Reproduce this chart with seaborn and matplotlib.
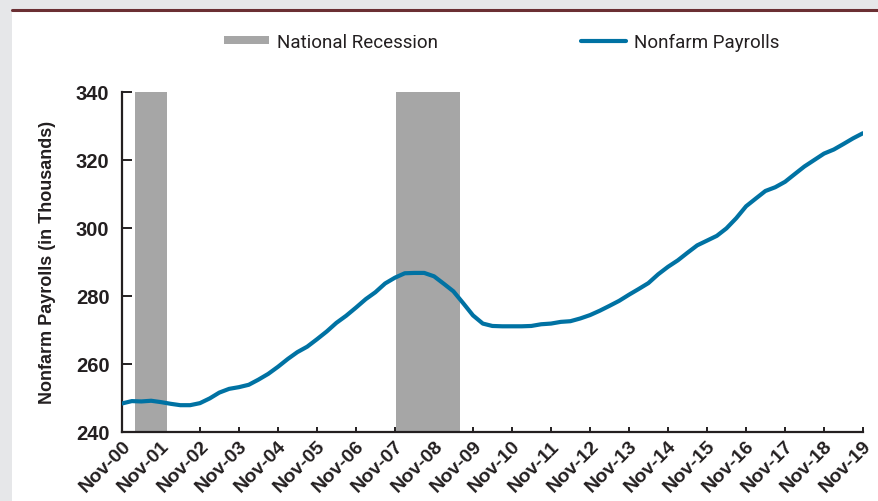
import pandas as pd
import matplotlib.pyplot as plt
import matplotlib.dates as mdates
from matplotlib.patches import Rectangle, Patch
from matplotlib.lines import Line2D
import seaborn as sns

# ==== Data (quarterly readings, Nov-2000 .. Nov-2019) ====
start_month = "2000-11-01"
payrolls = [
    248.3, 249.0, 248.9, 249.1, 248.7, 248.2, 247.8, 247.8, 248.4, 249.8,
    251.5, 252.6, 253.1, 253.8, 255.3, 257.0, 259.1, 261.4, 263.4, 265.0,
    267.2, 269.5, 272.0, 274.1, 276.5, 279.0, 281.0, 283.6, 285.3, 286.6,
    286.7, 286.7, 285.7, 283.5, 281.3, 277.8, 274.2, 271.8, 271.1, 271.0,
    271.0, 271.0, 271.1, 271.6, 271.8, 272.3, 272.5, 273.3, 274.3, 275.6,
    277.0, 278.5, 280.3, 282.0, 283.7, 286.3, 288.5, 290.4, 292.6, 294.8,
    296.2, 297.6, 299.8, 302.8, 306.3, 308.6, 310.8, 311.9, 313.5, 315.8,
    318.0, 319.9, 321.8, 323.0, 324.6, 326.3, 327.8,
]
recession_start = ["2001-03-01", "2007-11-15"]
recession_end = ["2001-12-25", "2009-07-01"]
y_ticks = [240, 260, 280, 300, 320, 340]

dates = pd.date_range(start_month, periods=len(payrolls), freq="3MS")
df = pd.DataFrame({"Date": dates, "Payrolls": payrolls})

# ==== Figure ====
sns.set_style("ticks")
plt.rcParams["font.family"] = ["Liberation Sans", "DejaVu Sans"]

W, H = 879, 502
fig = plt.figure(figsize=(W / 100, H / 100), dpi=100, facecolor="#e6e7e9")
fig.patches.append(Rectangle((12 / W, 0), 1 - 12 / W, 1 - 12 / H,
                             transform=fig.transFigure, facecolor="white",
                             edgecolor="none", zorder=-10))
fig.lines.append(Line2D([12 / W, 1], [1 - 10.5 / H, 1 - 10.5 / H],
                        transform=fig.transFigure, color="#6b2f33", lw=2.2,
                        zorder=-5))

ax = fig.add_axes([122 / W, 1 - 432.7 / H, (863 - 122) / W, (432.7 - 92.7) / H])
ax.set_facecolor("none")

for s, e in zip(recession_start, recession_end):
    ax.axvspan(pd.Timestamp(s), pd.Timestamp(e), color="#a6a6a6", lw=0, zorder=1)

sns.lineplot(data=df, x="Date", y="Payrolls", ax=ax, color="#0072a3",
             lw=3.0, zorder=3)

ax.set_xlim(pd.Timestamp("2000-11-01"), pd.Timestamp("2019-11-01"))
ax.set_ylim(240, 340)
ax.set_yticks(y_ticks)
ax.xaxis.set_major_locator(mdates.MonthLocator(bymonth=11, bymonthday=1))
ax.xaxis.set_major_formatter(mdates.DateFormatter("Nov-%y"))

sns.despine(ax=ax)
for side in ["left", "bottom"]:
    ax.spines[side].set_color("#231f20")
    ax.spines[side].set_linewidth(1.6)

ax.tick_params(axis="y", direction="in", length=7.5, width=1.4,
               color="#231f20", pad=9, labelsize=14.5, labelcolor="#231f20")
ax.tick_params(axis="x", direction="in", length=3.8, width=1.4,
               color="#231f20", pad=4, labelsize=14, labelcolor="#231f20")
for lab in ax.get_yticklabels():
    lab.set_fontweight("bold")
for lab in ax.get_xticklabels():
    lab.set_fontweight("bold")
    lab.set_rotation(45)
    lab.set_ha("right")
    lab.set_rotation_mode("anchor")

ax.set_xlabel("")
ax.set_ylabel("Nonfarm Payrolls (in Thousands)", fontsize=13, fontweight="bold",
              color="#231f20", labelpad=14)

handles = [Patch(facecolor="#a6a6a6", edgecolor="none"),
           Line2D([0], [0], color="#0072a3", lw=3.0)]
fig.legend(handles, ["National Recession", "Nonfarm Payrolls"],
           loc="center", bbox_to_anchor=(0.571, 0.915), ncol=2, frameon=False,
           handlelength=2.4, handleheight=0.35, handletextpad=0.45,
           columnspacing=7.6,
           prop={"family": "Roboto", "size": 13.5}, labelcolor="#231f20")

plt.savefig("out.png", dpi=100, facecolor=fig.get_facecolor())
